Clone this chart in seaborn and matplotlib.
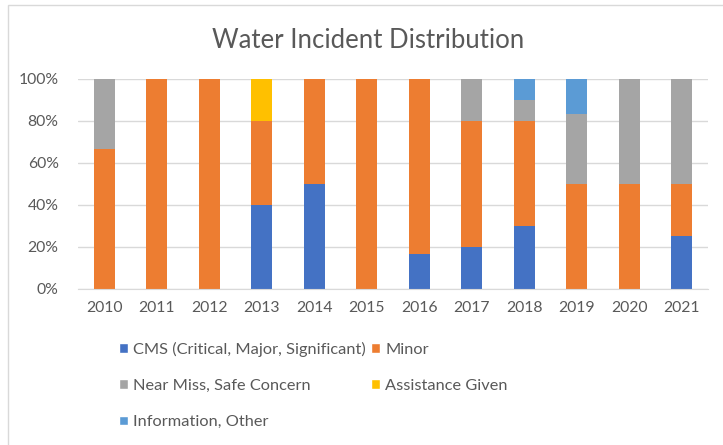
import numpy as np
import pandas as pd
import matplotlib.pyplot as plt
import seaborn as sns
from matplotlib.patches import Patch, Rectangle
from matplotlib.ticker import PercentFormatter

years = ['2010', '2011', '2012', '2013', '2014', '2015', '2016', '2017', '2018', '2019', '2020', '2021']
cms = [0, 0, 0, 40, 50, 0, 16.7, 20, 30, 0, 0, 25]
minor = [66.7, 100, 100, 40, 50, 100, 83.3, 60, 50, 50, 50, 25]
near_miss = [33.3, 0, 0, 0, 0, 0, 0, 20, 10, 33.3, 50, 50]
assistance = [0, 0, 0, 20, 0, 0, 0, 0, 0, 0, 0, 0]
info_other = [0, 0, 0, 0, 0, 0, 0, 0, 10, 16.7, 0, 0]

series_names = ['CMS (Critical, Major, Significant)', 'Minor', 'Near Miss, Safe Concern',
                'Assistance Given', 'Information, Other']
series_vals = [cms, minor, near_miss, assistance, info_other]
colors = ['#4472C4', '#ED7D31', '#A5A5A5', '#FFC000', '#5B9BD5']

sns.set_style('white')
plt.rcParams['font.family'] = ['Lato', 'DejaVu Sans']
text_col = '#595959'

fig = plt.figure(figsize=(7.23, 4.45), dpi=100)
ax = fig.add_axes([0.108, 0.3506, 0.871, 0.472])

bottom = np.zeros(len(years))
for name, vals, col in zip(series_names, series_vals, colors):
    df = pd.DataFrame({'Year': years, 'Share': vals})
    sns.barplot(data=df, x='Year', y='Share', color=col, bottom=bottom,
                width=0.4, linewidth=0, ax=ax, errorbar=None, saturation=1)
    bottom = bottom + np.array(vals)

ax.set_ylim(0, 100)
ax.set_xlim(-0.5, len(years) - 0.5)
ax.set_yticks(np.arange(0, 101, 20))
ax.yaxis.set_major_formatter(PercentFormatter(decimals=0))
ax.grid(axis='y', color='#D9D9D9', linewidth=1)
ax.set_axisbelow(True)
for s in ['top', 'right', 'left']:
    ax.spines[s].set_visible(False)
ax.spines['bottom'].set_color('#D9D9D9')
ax.set_xlabel('')
ax.set_ylabel('')
ax.tick_params(axis='both', length=0, labelsize=11.3, labelcolor=text_col)
ax.tick_params(axis='y', pad=14)
ax.tick_params(axis='x', pad=9)

fig.text(368 / 723, 1 - 40 / 445, 'Water Incident Distribution', ha='center', va='center',
         fontsize=18.5, color=text_col)

# chart border (visible left/top edges)
fig.patches.append(Rectangle((8 / 723, -0.05), 1.2, 1 - 5 / 445 + 0.05, transform=fig.transFigure,
                             fill=False, edgecolor='#D9D9D9', linewidth=1))

order = [0, 2, 4, 1, 3]
handles = [Patch(facecolor=colors[i], label=series_names[i]) for i in order]
fig.legend(handles=handles, ncol=2, loc='upper left', bbox_to_anchor=(119 / 723, 1 - 342 / 445),
           frameon=False, fontsize=11.8, labelcolor=text_col, handlelength=0.55, handleheight=0.55,
           handletextpad=0.3, columnspacing=0.35, labelspacing=1.35, borderaxespad=0, borderpad=0)

fig.savefig('out.png', dpi=100)
